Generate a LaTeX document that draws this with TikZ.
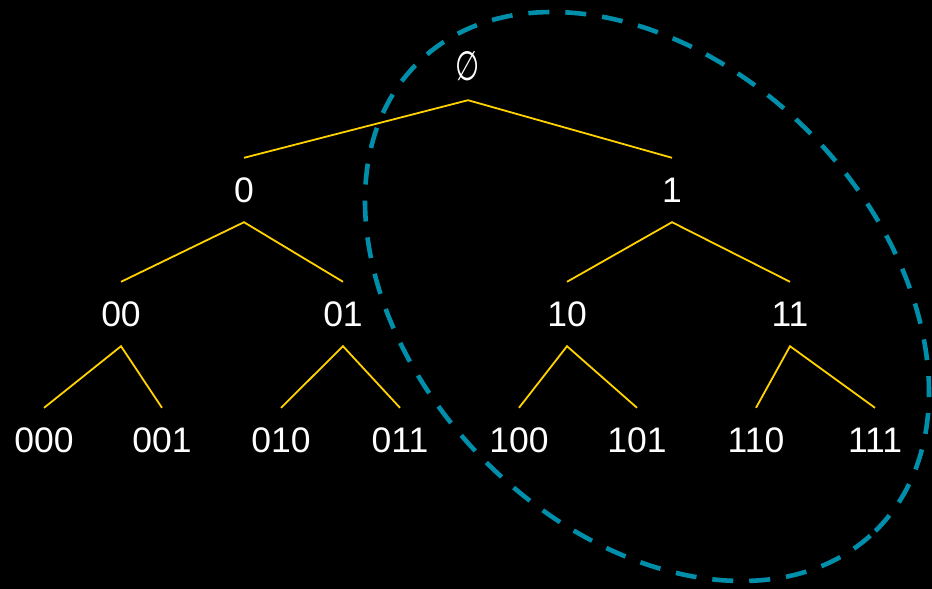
\documentclass[tikz,border=0pt]{standalone}
\usepackage{fontspec}
\usepackage{graphicx}
\setmainfont{Liberation Sans}
\newfontfamily\symfont{DejaVu Sans}
\definecolor{treeline}{RGB}{255,210,0}
\definecolor{ringcol}{RGB}{0,143,170}
\begin{document}
\begin{tikzpicture}[x=1pt,y=-1pt,
  lbl/.style={text=white, font=\fontsize{35.5}{40}\selectfont, inner sep=0pt,
    text height=25.4pt, text depth=0pt, minimum height=64pt},
  edge/.style={draw=treeline, line width=1.8pt},
  ring/.style={draw=ringcol, line width=4.6pt, dash pattern=on 21pt off 16pt}]
\fill[black] (0,0) rectangle (932,589);
\useasboundingbox (0,0) rectangle (932,589);
% labels
\node[lbl] (r)   at (468,68)  {\scalebox{0.78}[1.15]{\symfont ∅}};
\node[lbl] (n0)  at (244,190) {0};
\node[lbl] (n1)  at (672,190) {1};
\node[lbl] (n00) at (121,314) {00};
\node[lbl] (n01) at (343,314) {01};
\node[lbl] (n10) at (567,314) {10};
\node[lbl] (n11) at (790,314) {11};
\node[lbl] (n000) at (44,440)  {000};
\node[lbl] (n001) at (162,440) {001};
\node[lbl] (n010) at (281,440) {010};
\node[lbl] (n011) at (400,440) {011};
\node[lbl] (n100) at (519,440) {100};
\node[lbl] (n101) at (637,440) {101};
\node[lbl] (n110) at (756,440) {110};
\node[lbl] (n111) at (875,440) {111};
% edges
\path[edge] (n0.north) -- (r.south) -- (n1.north);
\path[edge] (n00.north) -- (n0.south) -- (n01.north);
\path[edge] (n10.north) -- (n1.south) -- (n11.north);
\path[edge] (n000.north) -- (n00.south) -- (n001.north);
\path[edge] (n010.north) -- (n01.south) -- (n011.north);
\path[edge] (n100.north) -- (n10.south) -- (n101.north);
\path[edge] (n110.north) -- (n11.south) -- (n111.north);
% dashed ellipse
\path[ring, shift={(647pt,-296.5pt)}, rotate=-45.75] (0,0) ellipse [x radius=327.3pt, y radius=230.9pt];
\end{tikzpicture}
\end{document}
